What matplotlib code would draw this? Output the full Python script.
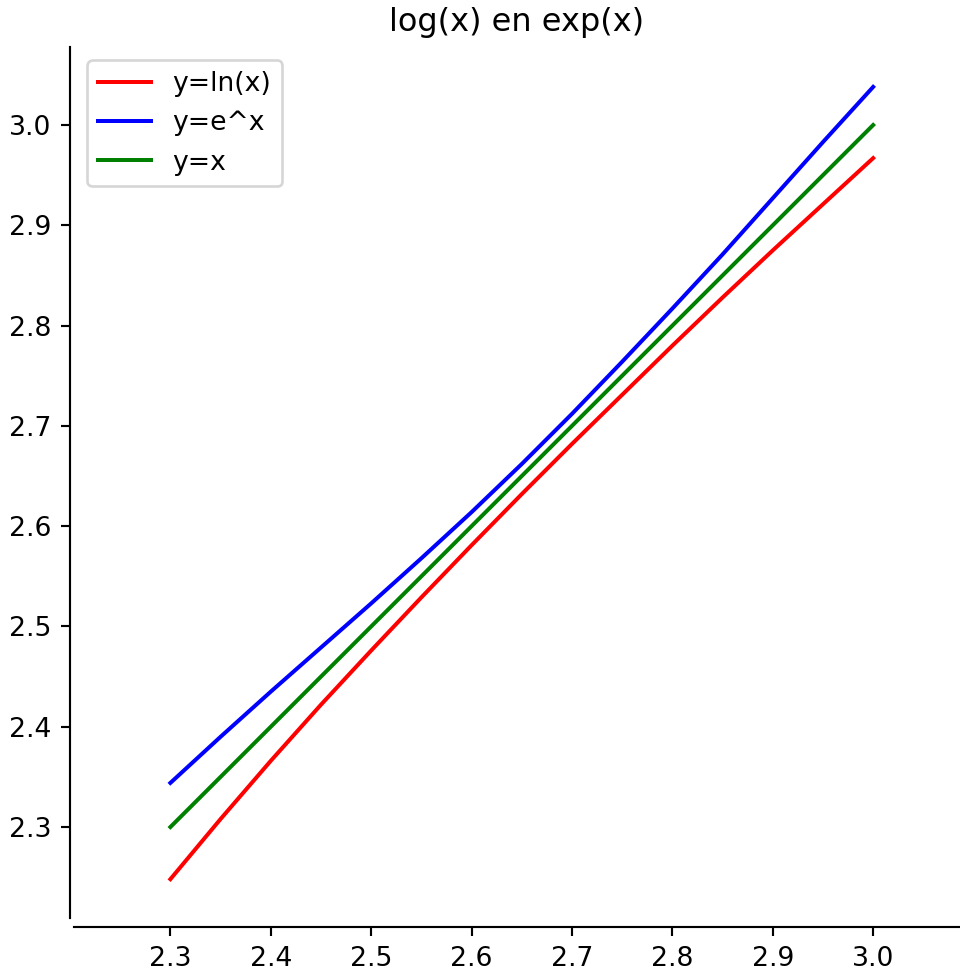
import matplotlib
matplotlib.use("Agg")
import matplotlib.pyplot as plt
import numpy as np

# values
x_vals = [2.3, 2.35, 2.4, 2.45, 2.5, 2.55, 2.6, 2.65, 2.7, 2.75, 2.8, 2.85, 2.9, 2.95, 3.0]
ln_vals = [2.248, 2.308, 2.366, 2.422, 2.476, 2.529, 2.581, 2.632, 2.682, 2.731,
           2.780, 2.828, 2.875, 2.921, 2.967]
exp_vals = [2.344, 2.390, 2.435, 2.479, 2.523, 2.568, 2.614, 2.662, 2.712, 2.764,
            2.817, 2.871, 2.927, 2.983, 3.038]
id_vals = [2.3, 2.35, 2.4, 2.45, 2.5, 2.55, 2.6, 2.65, 2.7, 2.75, 2.8, 2.85, 2.9, 2.95, 3.0]

fig = plt.figure(figsize=(5.0, 974 / 192), dpi=192)
ax = fig.add_axes([74 / 960, 56 / 974, 886 / 960, 871 / 974])

ax.plot(x_vals, ln_vals, color='red', label='y=ln(x)')
ax.plot(x_vals, exp_vals, color='blue', label='y=e^x')
ax.plot(x_vals, id_vals, color='green', label='y=x')

ax.set_xlim(2.204, 3.0865)
ax.set_ylim(2.2093, 3.0778)
ax.set_xticks(np.arange(2.3, 3.01, 0.1))
ax.set_yticks(np.arange(2.3, 3.01, 0.1))

# spines moved to 2.2 like in the original
ax.spines['right'].set_visible(False)
ax.spines['top'].set_visible(False)
ax.spines['left'].set_position(('data', 2.2))
ax.spines['bottom'].set_position(('data', 2.2))

ax.set_title('log(x) en exp(x)')
ax.legend(loc='upper left')

fig.savefig('out.png', dpi=192)
